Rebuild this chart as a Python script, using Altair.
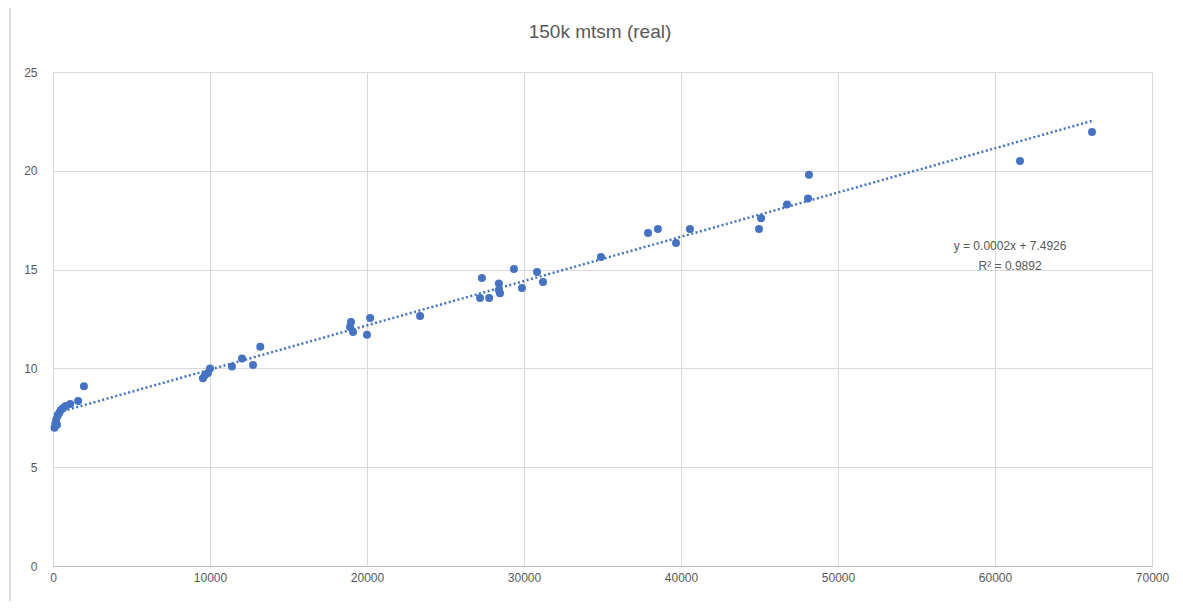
import altair as alt
import pandas as pd

# data
xs = [100, 150, 200, 250, 300, 400, 500, 650, 800, 1100, 1600, 1970,
      9550, 9680, 9870, 10000, 11400, 12040, 12740, 13200,
      18920, 18980, 19110, 20000, 20200, 23380,
      27200, 27320, 27780, 28400, 28400, 28470, 29360, 29870, 30830, 31210,
      34900, 37900, 38530, 39680, 40570, 44970, 45100, 46750, 48090, 48150,
      61590, 66180]
ys = [7.0, 7.2, 7.4, 7.15, 7.6, 7.75, 7.9, 8.0, 8.1, 8.2, 8.35, 9.1,
      9.5, 9.67, 9.77, 10.0, 10.1, 10.5, 10.17, 11.1,
      12.1, 12.35, 11.84, 11.7, 12.55, 12.65,
      13.56, 14.57, 13.56, 14.3, 13.97, 13.8, 15.03, 14.07, 14.88, 14.37,
      15.64, 16.85, 17.05, 16.35, 17.05, 17.05, 17.6, 18.3, 18.6, 19.8,
      20.5, 21.96]

title_text = ["150k mtsm (real)"]
eq_lines = ["y = 0.0002x + 7.4926", "R\u00b2 = 0.9892"]
eq_x = [60960, 60960]
eq_y = [16.19, 15.18]

x_ticks = [0, 10000, 20000, 30000, 40000, 50000, 60000, 70000]
y_ticks = [0, 5, 10, 15, 20, 25]

df = pd.DataFrame({"x": xs, "y": ys})
eq_df = pd.DataFrame({"t": eq_lines, "x": eq_x, "y": eq_y})
title_df = pd.DataFrame({"t": title_text})

blue = "#4472C4"
grey_txt = "#595959"
font = "Liberation Sans"

xscale = alt.Scale(domain=[0, 70000], nice=False, zero=False)
yscale = alt.Scale(domain=[0, 25], nice=False, zero=False)

xaxis = alt.Axis(values=x_ticks, grid=True, gridColor="#d9d9d9", domain=True,
                 domainColor="#bfbfbf", ticks=False, labelColor=grey_txt,
                 labelFontSize=12, labelFont=font, labelPadding=6, title=None,
                 labelFlush=False, format="d")
yaxis = alt.Axis(values=y_ticks, grid=True, gridColor="#d9d9d9", domain=False,
                 ticks=False, labelColor=grey_txt, labelFontSize=12, labelFont=font,
                 labelPadding=16, title=None, format="d")

base = alt.Chart(df)

points = base.mark_circle(size=64, color=blue, opacity=1).encode(
    x=alt.X("x:Q", scale=xscale, axis=xaxis),
    y=alt.Y("y:Q", scale=yscale, axis=yaxis),
)

trend = base.transform_regression("x", "y").mark_line(
    color=blue, strokeWidth=2.5, strokeDash=[2, 2.5]
).encode(x=alt.X("x:Q", scale=xscale), y=alt.Y("y:Q", scale=yscale))

eq = alt.Chart(eq_df).mark_text(
    font=font, fontSize=12, color=grey_txt, align="center", baseline="middle"
).encode(x=alt.X("x:Q", scale=xscale), y=alt.Y("y:Q", scale=yscale), text="t:N")

title = alt.Chart(title_df).mark_text(
    font=font, fontSize=19, color=grey_txt, align="center", baseline="middle"
).encode(x=alt.value(547), y=alt.value(-40), text="t:N")

border = alt.Chart(df).mark_rule(color="#d9d9d9", strokeWidth=1).encode(
    x=alt.value(-43), y=alt.value(-64), y2=alt.value(529)
)

chart = alt.layer(border, trend, points, eq, title).properties(
    width=1099,
    height=494,
    autosize=alt.AutoSizeParams(type="none"),
    padding={"left": 45, "top": 64, "right": 23, "bottom": 35},
).configure_view(stroke=None)

chart.save("out.html", embed_options={"renderer": "svg", "actions": False})
